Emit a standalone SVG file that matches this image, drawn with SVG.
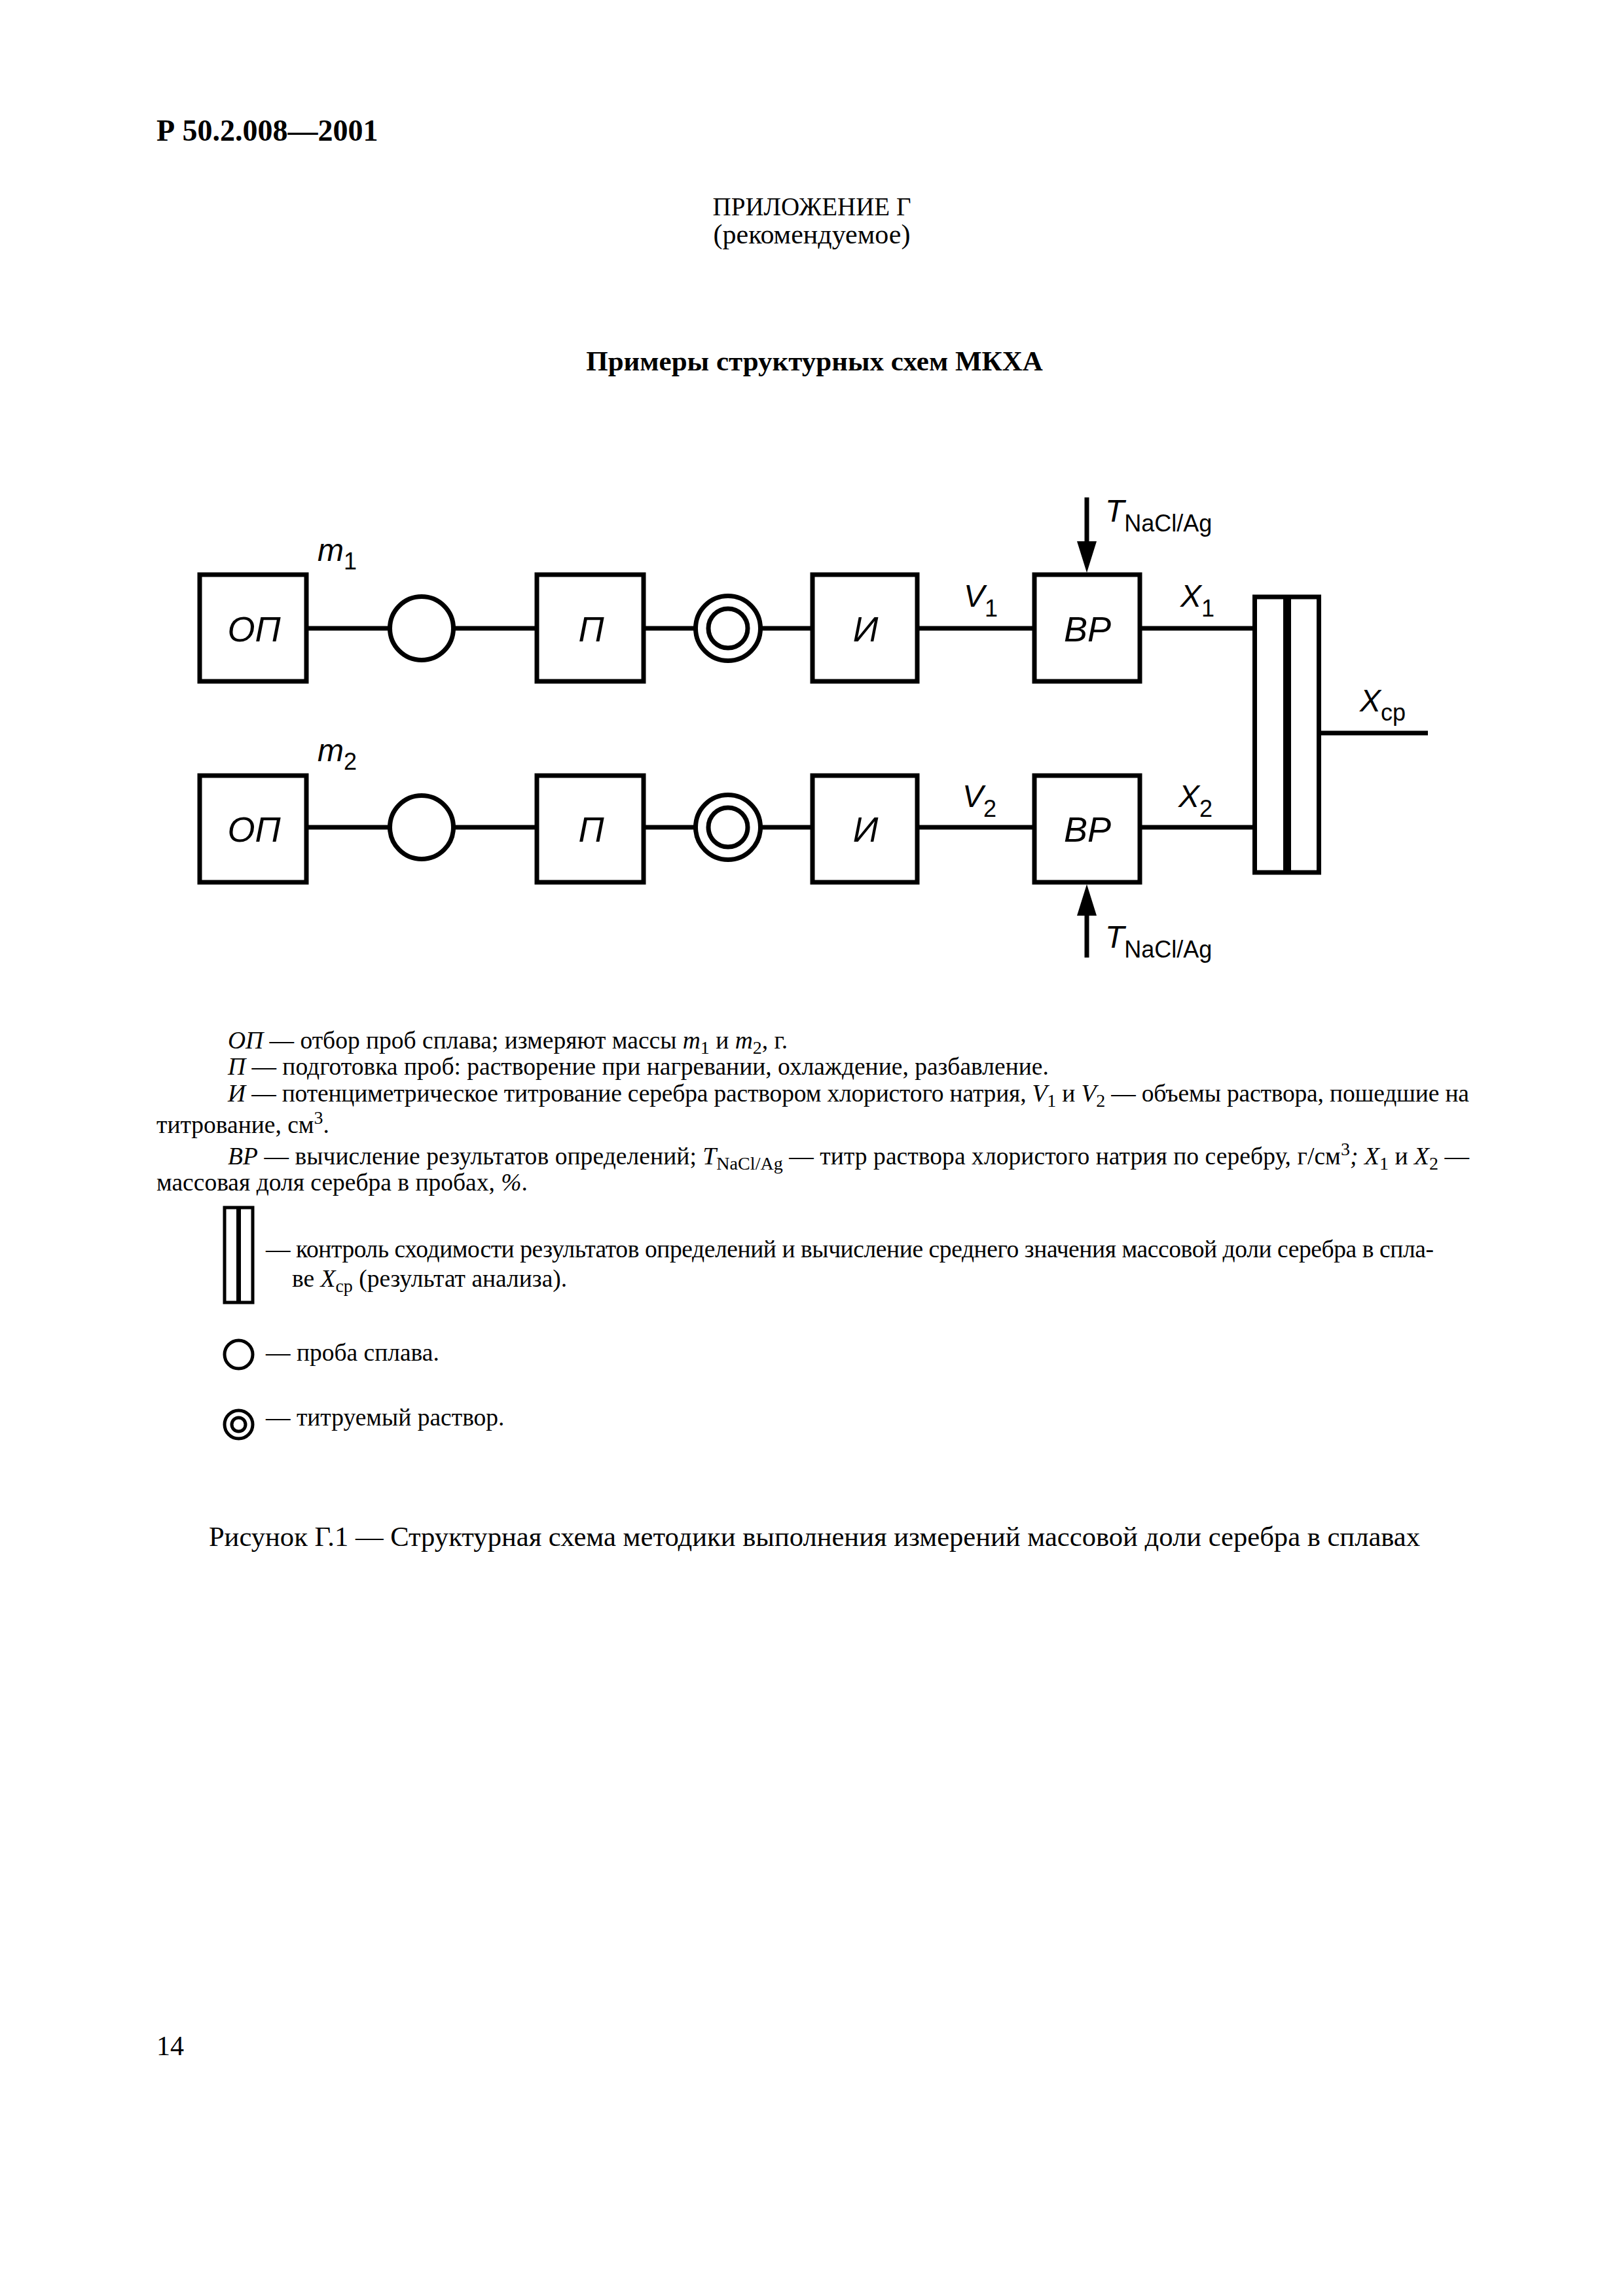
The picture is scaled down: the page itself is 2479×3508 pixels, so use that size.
<svg xmlns="http://www.w3.org/2000/svg" width="2479" height="3508" viewBox="0 0 2479 3508">
<style>
.t{font-family:"Liberation Serif","Times New Roman",serif;font-size:37.5px;fill:#000}
.h{font-family:"Liberation Serif","Times New Roman",serif;fill:#000}
.i{font-style:italic}
.d{font-family:"Liberation Sans",Arial,sans-serif;font-style:italic;fill:#000}
.bl{font-size:54px;text-anchor:middle}
.lb{font-size:48px}
.sb{font-style:normal;font-size:36px}
.ln{stroke:#000;stroke-width:7;fill:none}
.box{fill:#fff;stroke:#000;stroke-width:7}
.lg{fill:#fff;stroke:#000;stroke-width:5}
</style>
<defs>
<marker id="arr" viewBox="0 0 48 30" refX="0" refY="15" markerWidth="48" markerHeight="30" orient="auto" markerUnits="userSpaceOnUse">
<path d="M0,0 L48,15 L0,30 z" fill="#000"/>
</marker>
</defs>
<rect width="2479" height="3508" fill="#fff"/>

<g id="header">
<text class="h" x="239" y="215" font-size="46" font-weight="bold">Р 50.2.008—2001</text>
<text class="h" x="1240" y="329" font-size="39" text-anchor="middle">ПРИЛОЖЕНИЕ Г</text>
<text class="h" x="1240" y="372" font-size="42" text-anchor="middle">(рекомендуемое)</text>
<text class="h" x="1244" y="566" font-size="43" font-weight="bold" text-anchor="middle">Примеры структурных схем МКХА</text>
</g>

<g id="connectors">
<line class="ln" x1="468" y1="960" x2="820" y2="960"/>
<line class="ln" x1="983" y1="960" x2="1241" y2="960"/>
<line class="ln" x1="1401" y1="960" x2="1580" y2="960"/>
<line class="ln" x1="1741" y1="960" x2="1917" y2="960"/>
<line class="ln" x1="468" y1="1264" x2="820" y2="1264"/>
<line class="ln" x1="983" y1="1264" x2="1241" y2="1264"/>
<line class="ln" x1="1401" y1="1264" x2="1580" y2="1264"/>
<line class="ln" x1="1741" y1="1264" x2="1917" y2="1264"/>
<line class="ln" x1="2014" y1="1120" x2="2181" y2="1120"/>
<line class="ln" x1="1660" y1="760" x2="1660" y2="827" marker-end="url(#arr)"/>
<line class="ln" x1="1660" y1="1463" x2="1660" y2="1399" marker-end="url(#arr)"/>
</g>

<g id="op1"><rect class="box" x="305" y="878" width="163" height="163"/><text class="d bl" x="388" y="980">ОП</text></g>
<g id="probe1"><circle class="box" cx="644" cy="960" r="48.5"/></g>
<g id="p1"><rect class="box" x="820" y="878" width="163" height="163"/><text class="d bl" x="903" y="980">П</text></g>
<g id="sol1"><circle class="box" cx="1112" cy="960" r="49.5"/><circle class="box" cx="1112" cy="960" r="30"/></g>
<g id="i1"><rect class="box" x="1241" y="878" width="160" height="163"/><text class="d bl" x="1322" y="980">И</text></g>
<g id="vr1"><rect class="box" x="1580" y="878" width="161" height="163"/><text class="d bl" x="1661" y="980">ВР</text></g>

<g id="op2"><rect class="box" x="305" y="1185" width="163" height="163"/><text class="d bl" x="388" y="1286">ОП</text></g>
<g id="probe2"><circle class="box" cx="644" cy="1264" r="48.5"/></g>
<g id="p2"><rect class="box" x="820" y="1185" width="163" height="163"/><text class="d bl" x="903" y="1286">П</text></g>
<g id="sol2"><circle class="box" cx="1112" cy="1264" r="49.5"/><circle class="box" cx="1112" cy="1264" r="30"/></g>
<g id="i2"><rect class="box" x="1241" y="1185" width="160" height="163"/><text class="d bl" x="1322" y="1286">И</text></g>
<g id="vr2"><rect class="box" x="1580" y="1185" width="161" height="163"/><text class="d bl" x="1661" y="1286">ВР</text></g>

<g id="control"><rect class="box" x="1916.5" y="912" width="98" height="421"/><rect x="1960" y="912" width="12" height="421" fill="#000"/></g>

<g id="labels">
<text class="d lb" x="485" y="857">m<tspan class="sb" dy="13">1</tspan></text>
<text class="d lb" x="485" y="1163">m<tspan class="sb" dy="13">2</tspan></text>
<text class="d lb" x="1472" y="927">V<tspan class="sb" dy="15">1</tspan></text>
<text class="d lb" x="1470" y="1233">V<tspan class="sb" dy="15">2</tspan></text>
<text class="d lb" x="1803" y="927">X<tspan class="sb" dy="15">1</tspan></text>
<text class="d lb" x="1800" y="1233">X<tspan class="sb" dy="15">2</tspan></text>
<text class="d lb" x="1688" y="797">T<tspan class="sb" dy="15">NaCl/Ag</tspan></text>
<text class="d lb" x="1688" y="1448">T<tspan class="sb" dy="15">NaCl/Ag</tspan></text>
<text class="d lb" x="2077" y="1087">X<tspan class="sb" dy="14">ср</tspan></text>
</g>

<g id="legend">
<text class="t" x="348" y="1602"><tspan class="i">ОП</tspan> — отбор проб сплава; измеряют массы <tspan class="i">m</tspan><tspan font-size="28" dy="8">1</tspan><tspan dy="-8"> и </tspan><tspan class="i">m</tspan><tspan font-size="28" dy="8">2</tspan><tspan dy="-8">, г.</tspan></text>
<text class="t" x="348" y="1642"><tspan class="i">П</tspan> — подготовка проб: растворение при нагревании, охлаждение, разбавление.</text>
<text class="t" x="348" y="1683" textLength="1896" lengthAdjust="spacing"><tspan class="i">И</tspan> — потенциметрическое титрование серебра раствором хлористого натрия, <tspan class="i">V</tspan><tspan font-size="28" dy="8">1</tspan><tspan dy="-8"> и </tspan><tspan class="i">V</tspan><tspan font-size="28" dy="8">2</tspan><tspan dy="-8"> — объемы раствора, пошедшие на</tspan></text>
<text class="t" x="239" y="1731">титрование, см<tspan font-size="28" dy="-14">3</tspan><tspan dy="14">.</tspan></text>
<text class="t" x="348" y="1779" textLength="1896" lengthAdjust="spacing"><tspan class="i">ВР</tspan> — вычисление результатов определений; <tspan class="i">T</tspan><tspan font-size="28" dy="8">NaCl/Ag</tspan><tspan dy="-8"> — титр раствора хлористого натрия по серебру, г/см</tspan><tspan font-size="28" dy="-14">3</tspan><tspan dy="14" class="i">; X</tspan><tspan font-size="28" dy="8">1</tspan><tspan dy="-8"> и </tspan><tspan class="i">X</tspan><tspan font-size="28" dy="8">2</tspan><tspan dy="-8"> —</tspan></text>
<text class="t" x="239" y="1819">массовая доля серебра в пробах, <tspan class="i">%</tspan>.</text>

<g id="legend-control"><rect class="lg" x="343" y="1845" width="43" height="145"/><rect x="361" y="1845" width="7" height="145" fill="#000"/></g>
<text class="t" x="406" y="1921" textLength="1784" lengthAdjust="spacing">— контроль сходимости результатов определений и вычисление среднего значения массовой доли серебра в спла-</text>
<text class="t" x="446" y="1966">ве <tspan class="i">X</tspan><tspan font-size="28" dy="8">ср</tspan><tspan dy="-8"> (результат анализа).</tspan></text>

<g id="legend-probe"><circle class="lg" cx="364.5" cy="2069.5" r="21.5"/></g>
<text class="t" x="406" y="2079">— проба сплава.</text>

<g id="legend-solution"><circle class="lg" cx="364.5" cy="2176.5" r="21.5"/><circle class="lg" cx="364.5" cy="2176.5" r="10.5"/></g>
<text class="t" x="406" y="2178">— титруемый раствор.</text>
</g>

<g id="caption">
<text class="h" x="1244" y="2362" font-size="42.6" text-anchor="middle">Рисунок Г.1 — Структурная схема методики выполнения измерений массовой доли серебра в сплавах</text>
<text class="h" x="239" y="3140" font-size="42">14</text>
</g>
</svg>
